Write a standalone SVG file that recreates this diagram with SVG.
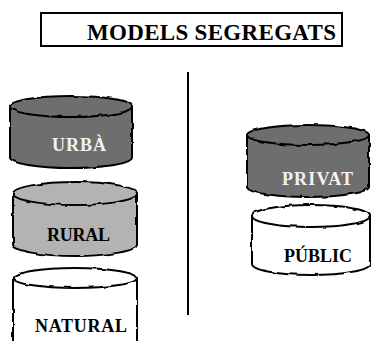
<svg xmlns="http://www.w3.org/2000/svg" width="371" height="341" viewBox="0 0 371 341">
<style>
.cyl{stroke:#000;stroke-width:2;stroke-linejoin:round}
.dark{fill:#6e6e6e}
.mid{fill:#b3b3b3}
.light{fill:#fff}
.lbl{font-family:"Liberation Serif","Times New Roman",serif;font-weight:bold;font-size:18px}
.lt{fill:#f2f2f2}
.bk{fill:#000}
</style>
<defs>
<filter id="wob" x="-5%" y="-10%" width="110%" height="120%">
<feTurbulence type="fractalNoise" baseFrequency="0.1" numOctaves="1" seed="3"/>
<feDisplacementMap in="SourceGraphic" scale="3.5" xChannelSelector="R" yChannelSelector="G"/>
</filter>
</defs>
<rect fill="#fff" width="371" height="341"/>
<g id="title">
<rect x="41" y="13" width="301" height="33" fill="#fff" stroke="#000" stroke-width="2"/>
<text x="87" y="40" font-family="'Liberation Serif','Times New Roman',serif" font-weight="bold" font-size="23" textLength="249" lengthAdjust="spacing">MODELS SEGREGATS</text>
</g>
<g id="connectors">
<line x1="188" y1="72" x2="188" y2="315" stroke="#000" stroke-width="2"/>
</g>
<g id="urba">
<g filter="url(#wob)">
<path class="cyl dark" d="M10,106.5 V157.5 A61,10.5 0 0 0 132,157.5 V106.5 Z"/>
<ellipse class="cyl dark" cx="71" cy="106.5" rx="61" ry="10.5"/>
</g>
<text class="lbl lt" x="52" y="151" textLength="54" lengthAdjust="spacing">URBÀ</text>
</g>
<g id="rural">
<g filter="url(#wob)">
<path class="cyl mid" d="M13,193.5 V244.5 A62,11.5 0 0 0 137,244.5 V193.5 Z"/>
<ellipse class="cyl mid" cx="75" cy="193.5" rx="62" ry="11.5"/>
</g>
<text class="lbl bk" x="47" y="241" textLength="63" lengthAdjust="spacing">RURAL</text>
</g>
<g id="natural">
<g filter="url(#wob)">
<path class="cyl light" d="M13,278 V342 A62,10 0 0 0 137,342 V278 Z"/>
<ellipse class="cyl light" cx="75" cy="278" rx="62" ry="10"/>
</g>
<text class="lbl bk" x="35" y="331.5" textLength="92" lengthAdjust="spacing">NATURAL</text>
</g>
<g id="privat">
<g filter="url(#wob)">
<path class="cyl dark" d="M247,135 V187 A61,10 0 0 0 369,187 V135 Z"/>
<ellipse class="cyl dark" cx="308" cy="135" rx="61" ry="10"/>
</g>
<text class="lbl lt" x="282" y="185" textLength="71" lengthAdjust="spacing">PRIVAT</text>
</g>
<g id="public">
<g filter="url(#wob)">
<path class="cyl light" d="M252,216 V264 A59,11 0 0 0 370,264 V216 Z"/>
<ellipse class="cyl light" cx="311" cy="216" rx="59" ry="11"/>
</g>
<text class="lbl bk" x="284" y="262" textLength="68" lengthAdjust="spacing">PÚBLIC</text>
</g>
</svg>
